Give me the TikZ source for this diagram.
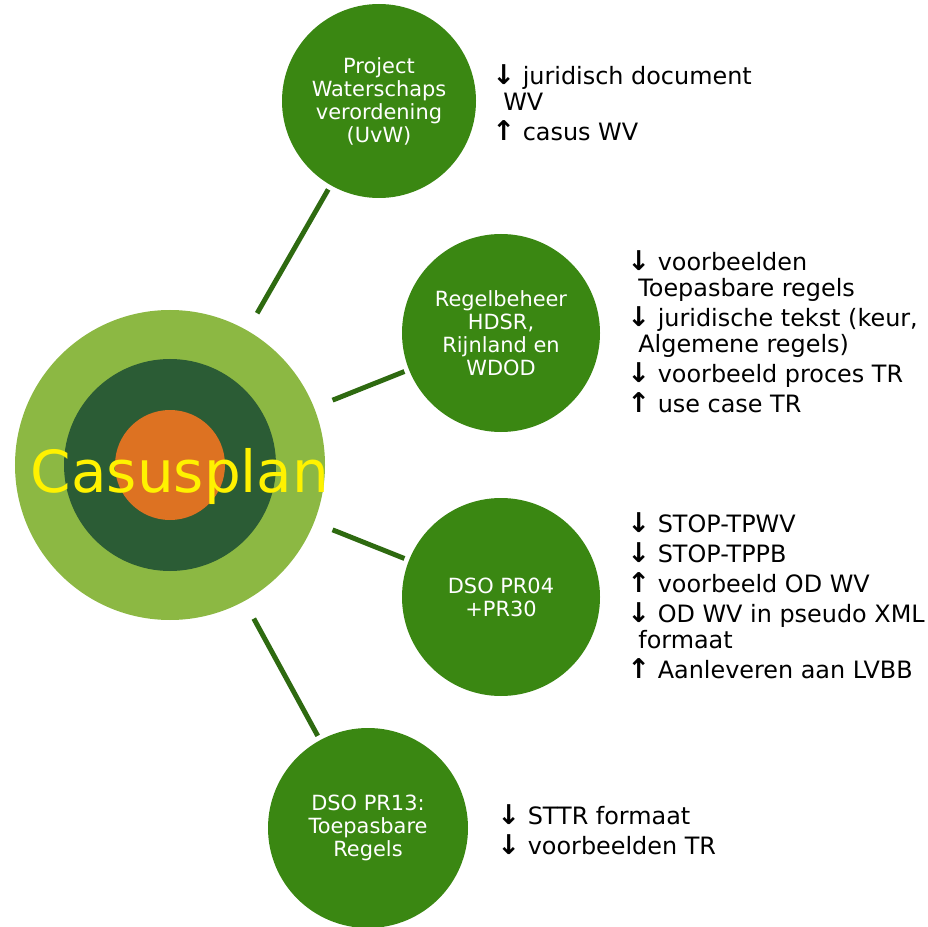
\documentclass[tikz,border=0pt]{standalone}
\usepackage{fontspec}
\setmainfont{DejaVu Sans}
\definecolor{proj}{RGB}{58,135,18}
\definecolor{lijn}{RGB}{46,106,16}
\definecolor{buiten}{RGB}{140,184,67}
\definecolor{ring}{RGB}{43,92,53}
\definecolor{kern}{RGB}{221,114,34}
\newcommand{\neer}{{\fontsize{15.5}{14.8}\selectfont\bfseries ↓}}
\newcommand{\op}{{\fontsize{15.5}{14.8}\selectfont\bfseries ↑}}
\newcommand{\inspring}{\hspace*{0.22cm}}

\begin{document}
\begin{tikzpicture}[
    project/.style={circle,fill=proj,text=white,inner sep=0pt,outer sep=0pt,
      minimum size=3.96cm,align=center,font=\fontsize{11.9}{13.1}\selectfont},
    lijst/.style={anchor=north west,inner sep=0pt,align=left,
      font=\fontsize{13.6}{14.8}\selectfont},
    link/.style={draw=lijn,line width=2.8pt,shorten <=0.4cm,shorten >=0.1cm}]
  \useasboundingbox (0,0) rectangle (18.56,-18.54);

  \node at (3.4,-9.3) [circle,fill=buiten,inner sep=0pt,outer sep=0pt,minimum size=6.2cm] (0) {};
  \node at (3.4,-9.3) [circle,fill=ring,inner sep=0pt,minimum size=4.24cm] (0r) {};
  \node at (3.4,-9.3) [circle,fill=kern,inner sep=0pt,minimum size=2.2cm] (0k) {};
  \node at (3.6,-9.84) [anchor=base,inner sep=0pt,text=yellow,font=\fontsize{33}{33}\selectfont] (0t) {Casusplan};

  \node at (7.58,-2.02) [project,minimum size=3.88cm] (1) {Project\\Waterschaps\\verordening\\(UvW)};
  \node at (10.02,-6.66) [project] (2) {Regelbeheer\\HDSR,\\Rijnland en\\WDOD};
  \node at (10.02,-11.94) [project] (3) {DSO PR04\\+PR30};
  \node at (7.36,-16.56) [project,minimum size=4cm] (4) {DSO PR13:\\Toepasbare\\Regels};

  \node at (9.84,-1.28) [lijst] (10) {\neer{} juridisch document\\\inspring WV\\[2.3pt]
    \op{} casus WV};
  \node at (12.54,-5.0) [lijst] (20) {\neer{} voorbeelden\\\inspring Toepasbare regels\\[2.3pt]
    \neer{} juridische tekst (keur,\\\inspring Algemene regels)\\[2.3pt]
    \neer{} voorbeeld proces TR\\[2.3pt]
    \op{} use case TR};
  \node at (12.54,-10.24) [lijst] (30) {\neer{} STOP-TPWV\\[2.3pt]
    \neer{} STOP-TPPB\\[2.3pt]
    \op{} voorbeeld OD WV\\[2.3pt]
    \neer{} OD WV in pseudo XML\\\inspring formaat\\[2.3pt]
    \op{} Aanleveren aan LVBB};
  \node at (9.94,-16.08) [lijst] (40) {\neer{} STTR formaat\\[2.3pt]
    \neer{} voorbeelden TR};

  \draw[link] (0) -- (1);
  \draw[link] (0) -- (2);
  \draw[link] (0) -- (3);
  \draw[link] (0) -- (4);
\end{tikzpicture}
\end{document}
